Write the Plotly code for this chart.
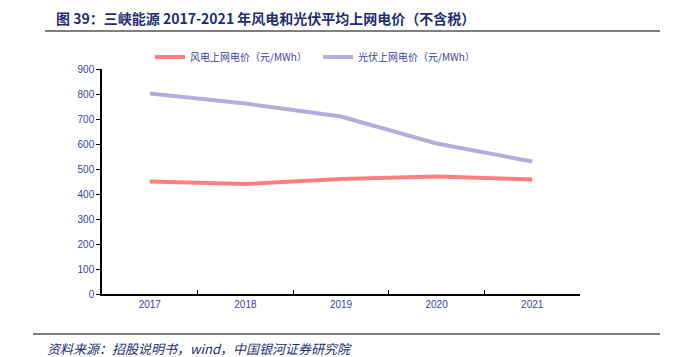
import plotly.graph_objects as go

years = ["2017", "2018", "2019", "2020", "2021"]
wind_price = [450, 440, 460, 470, 458]
solar_price = [802, 762, 710, 602, 530]
wind_name = "风电上网电价（元/MWh）"
solar_name = "光伏上网电价（元/MWh）"
title_text = "图 39：三峡能源 2017-2021 年风电和光伏平均上网电价（不含税）"
source_text = "资料来源：招股说明书，wind，中国银河证券研究院"

# page body has an 8px default margin; work in reference pixel coords and offset
OFF = 8
W, H = 688 - OFF, 357 - OFF
L, R, T, B = 102 - OFF, 108, 69 - OFF, 63
pw, ph = W - L - R, H - T - B

def px_x(x):
    return (x - OFF - L) / pw

def px_y(y):
    return (H - B - (y - OFF)) / ph

fig = go.Figure()
fig.add_trace(go.Scatter(x=years, y=wind_price, mode="lines", name=wind_name,
                         line=dict(color="#FF7F7F", width=4)))
fig.add_trace(go.Scatter(x=years, y=solar_price, mode="lines", name=solar_name,
                         line=dict(color="#B3ADDA", width=4)))

tick_font = dict(family="Liberation Sans, Arial, sans-serif", size=10, color="#3F3F9F")

fig.update_layout(
    width=W, height=H,
    margin=dict(l=L, r=R, t=T, b=B),
    plot_bgcolor="white", paper_bgcolor="white",
    showlegend=True,
    legend=dict(orientation="h", x=px_x(150), xanchor="left", y=px_y(57), yanchor="middle",
                font=dict(family="Noto Sans CJK SC", size=10, color="#3F3F9F"),
                entrywidth=123, bgcolor="rgba(0,0,0,0)"),
    xaxis=dict(type="category", range=[-0.5, 4.5], showline=True, linecolor="black", linewidth=1.5,
               ticks="inside", tickson="boundaries", ticklen=4, tickcolor="black",
               showgrid=False, tickfont=tick_font, zeroline=False),
    yaxis=dict(range=[0, 900], dtick=100, showline=True, linecolor="black", linewidth=1.5,
               ticks="outside", ticklen=4, tickcolor="black", showgrid=False, zeroline=False,
               tickfont=tick_font),
    shapes=[
        dict(type="line", xref="paper", yref="paper", x0=px_x(45), x1=px_x(660),
             y0=px_y(31), y1=px_y(31), line=dict(color="#7F7F7F", width=2)),
        dict(type="line", xref="paper", yref="paper", x0=px_x(33), x1=px_x(660),
             y0=px_y(334), y1=px_y(334), line=dict(color="#7F7F7F", width=2)),
    ],
    annotations=[
        dict(text="<b>" + title_text + "</b>", xref="paper", yref="paper",
             x=px_x(54), y=px_y(18), xanchor="left", yanchor="middle", showarrow=False,
             font=dict(family="Noto Sans CJK SC", size=14, color="#1F2F6F")),
        dict(text="<i>" + source_text + "</i>", xref="paper", yref="paper",
             x=px_x(45), y=px_y(348), xanchor="left", yanchor="middle", showarrow=False,
             font=dict(family="Noto Sans CJK SC", size=13, color="#1F2F6F")),
    ],
)

fig.write_html("out.html")
